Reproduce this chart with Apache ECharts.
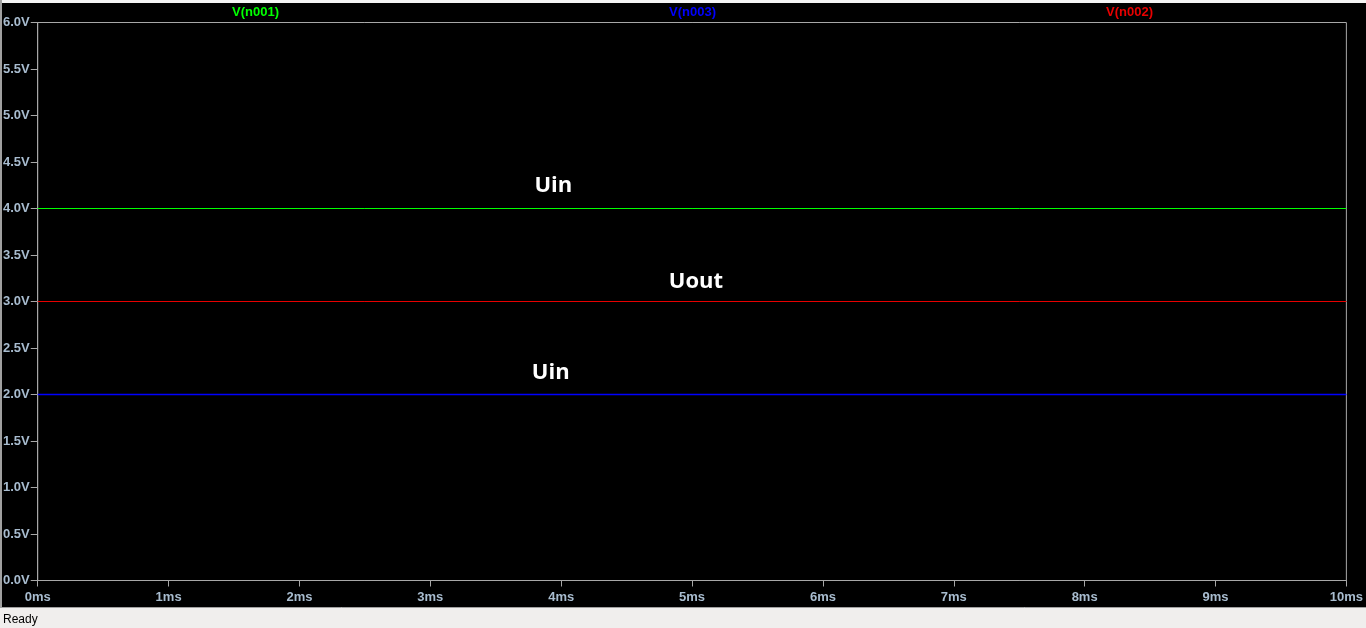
<!DOCTYPE html>
<html>
<head>
<meta charset="utf-8">
<script src="https://cdn.jsdelivr.net/npm/echarts@6/dist/echarts.min.js"></script>
<style>
html,body{margin:0;padding:0;background:#f0eeed;}
#c{width:1366px;height:628px;}
</style>
</head>
<body>
<div id="c"></div>
<script>
// ---- data ----
const timeMs = [0, 10];
const seriesNames = ['V(n001)', 'V(n003)', 'V(n002)'];
const seriesColors = ['#00ff00', '#0000ff', '#e80000'];
const vN001 = [4.0, 4.0];
const vN003 = [2.0, 2.0];
const vN002 = [3.0, 3.0];
const yTicks = [0, 0.5, 1, 1.5, 2, 2.5, 3, 3.5, 4, 4.5, 5, 5.5, 6];
const xTicks = [0, 1, 2, 3, 4, 5, 6, 7, 8, 9, 10];
const annotations = [
  {text: 'Uin', t: 3.94, v: 4.24},
  {text: 'Uout', t: 5.03, v: 3.21},
  {text: 'Uin', t: 3.92, v: 2.23}
];

const values = [vN001, vN003, vN002];
const chart = echarts.init(document.getElementById('c'));
const G = {left: 37, right: 18, top: 22.5, bottom: 47.5};
const plotW = 1366 - G.left - G.right;
const labelColor = '#a8bccf';
const axisColor = '#a8a8a8';
const font = 'Liberation Sans, Arial, sans-serif';

const series = seriesNames.map((n, i) => ({
  name: n,
  type: 'line',
  data: timeMs.map((t, k) => [t, values[i][k]]),
  showSymbol: false,
  symbol: 'none',
  lineStyle: {color: seriesColors[i], width: i === 1 ? 1.4 : 1},
  itemStyle: {color: seriesColors[i]},
  animation: false,
  z: 3
}));
series.push({
  type: 'scatter',
  data: annotations.map(a => ({value: [a.t, a.v], name: a.text})),
  symbolSize: 0,
  silent: true,
  animation: false,
  itemStyle: {opacity: 1},
  label: {
    show: true, position: 'inside', opacity: 1,
    formatter: p => p.name,
    color: '#ffffff', fontSize: 22, fontWeight: 'bold', textBorderWidth: 0,
    fontFamily: 'Open Sans, DejaVu Sans, sans-serif'
  },
  emphasis: {disabled: true},
  z: 5
});

const graphics = [
  {type: 'rect', shape: {x: 0, y: 0, width: 1366, height: 3}, style: {fill: '#f4f4f4'}, silent: true},
  {type: 'rect', shape: {x: 0, y: 0, width: 2, height: 608}, style: {fill: '#a0a0a0'}, silent: true},
  {type: 'rect', shape: {x: 0, y: 607, width: 1366, height: 21}, style: {fill: '#f0eeed'}, silent: true},
  {type: 'line', shape: {x1: 0, y1: 607.5, x2: 1366, y2: 607.5}, style: {stroke: '#a0a0a0', lineWidth: 1}, silent: true},
  {type: 'text', x: 3, y: 620, style: {text: 'Ready', fill: '#000', font: '12px Liberation Sans, sans-serif', textVerticalAlign: 'middle'}, silent: true}
];
seriesNames.forEach((n, i) => {
  graphics.push({
    type: 'text',
    x: G.left + plotW * (i + 0.5) / 3,
    y: 12,
    style: {text: n, fill: seriesColors[i], font: 'bold 13px ' + font, textAlign: 'center', textVerticalAlign: 'middle'},
    silent: true
  });
});

chart.setOption({
  backgroundColor: '#000000',
  animation: false,
  grid: {left: G.left, right: G.right, top: G.top, bottom: G.bottom, show: true, borderColor: axisColor, borderWidth: 1, backgroundColor: 'transparent'},
  xAxis: {
    type: 'value', min: xTicks[0], max: xTicks[xTicks.length - 1], interval: 1,
    axisLine: {show: true, onZero: false, lineStyle: {color: axisColor}},
    axisTick: {show: true, length: 6, lineStyle: {color: axisColor}},
    splitLine: {show: false},
    axisLabel: {margin: 10, color: labelColor, fontSize: 13, fontWeight: 'bold', fontFamily: font, formatter: v => v + 'ms', showMaxLabel: true, showMinLabel: true}
  },
  yAxis: {
    type: 'value', min: yTicks[0], max: yTicks[yTicks.length - 1], interval: 0.5,
    axisLine: {show: true, lineStyle: {color: axisColor}},
    axisTick: {show: true, length: 7, lineStyle: {color: axisColor}},
    splitLine: {show: false},
    axisLabel: {margin: 8, color: labelColor, fontSize: 13, fontWeight: 'bold', fontFamily: font, formatter: v => v.toFixed(1) + 'V'}
  },
  series: series,
  graphic: graphics
});
</script>
</body>
</html>
